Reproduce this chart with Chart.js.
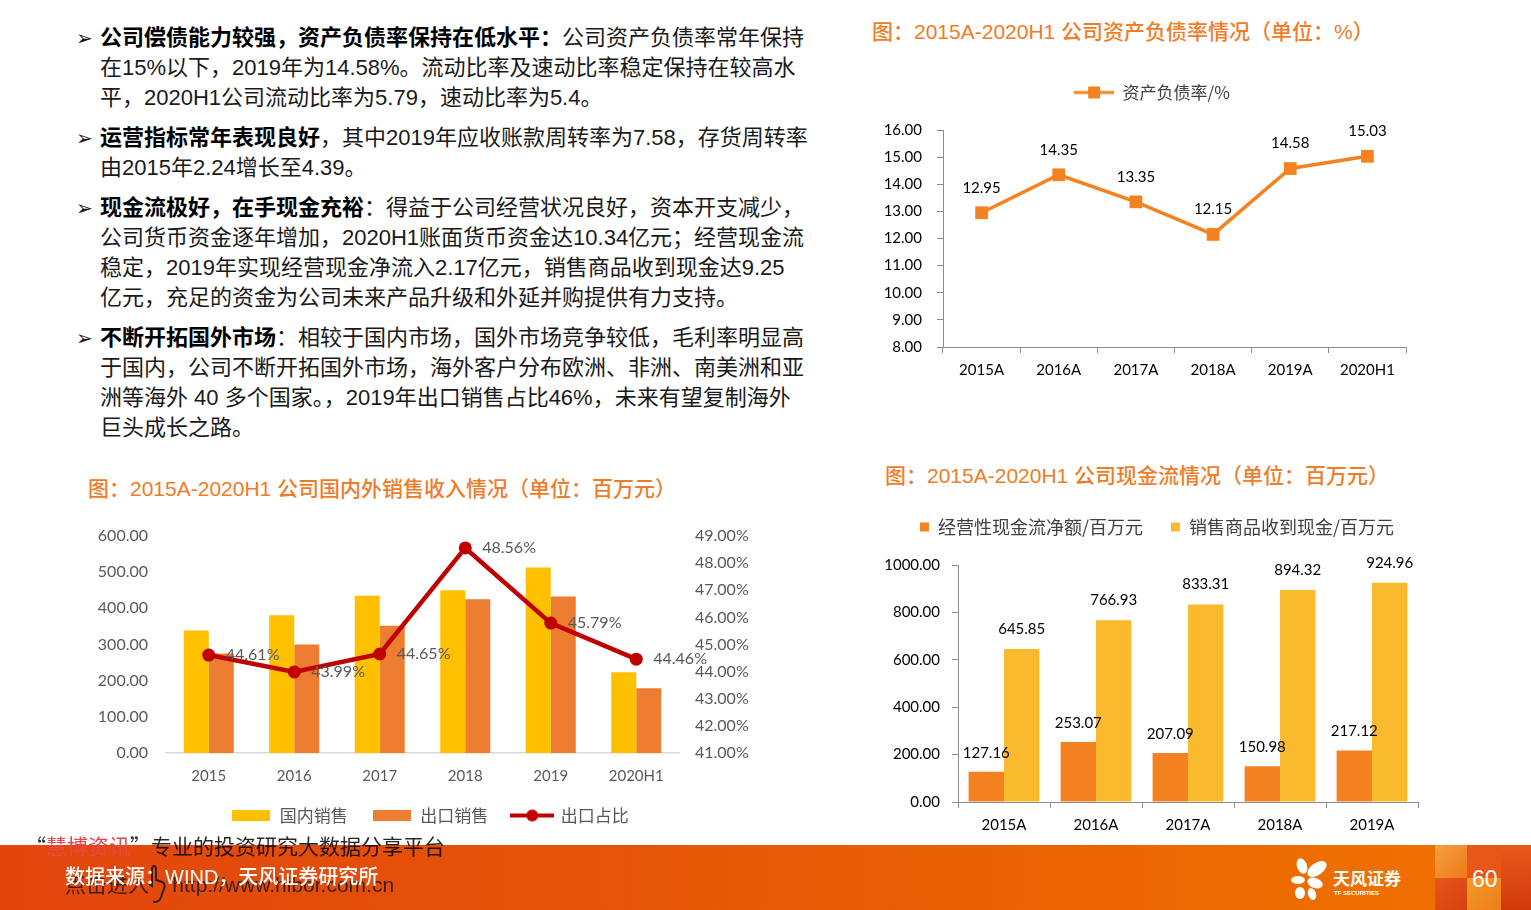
<!DOCTYPE html>
<html><head><meta charset="utf-8">
<script src="https://cdn.jsdelivr.net/npm/chart.js@4.4.1/dist/chart.umd.min.js"></script>
<style>
html,body{margin:0;padding:0;}
body{width:1531px;height:910px;position:relative;overflow:hidden;background:#fff;font-family:"Liberation Sans","Noto Sans CJK SC",sans-serif;}
.abs{position:absolute;}
#text{left:100px;top:23px;width:760px;font-size:22px;line-height:30px;color:#1a1a1a;}
#text p{margin:0 0 10px 0;position:relative;white-space:nowrap;}
#text p:before{content:"\27A2";position:absolute;left:-24px;top:0px;font-size:20px;font-family:"DejaVu Sans";color:#111;}
#text b{font-weight:700;color:#000;}
.title{font-family:"Liberation Sans","Noto Sans CJK SC";font-size:21px;line-height:30px;color:#F07C28;font-weight:500;white-space:nowrap;}
canvas{position:absolute;}
#band{left:0;top:845px;width:1531px;height:65px;background:linear-gradient(90deg,#E2460D 0%,#E45009 30%,#E95F05 60%,#EE7000 92%);}
.mz{position:absolute;}
#wm1{left:25px;top:830px;font-size:21px;line-height:30px;color:rgba(0,0,0,0.85);white-space:nowrap;font-family:"Noto Sans CJK SC";}
#wm1 span{color:#E8474B;}
#src{left:65px;top:863px;font-size:20px;line-height:28px;color:#fff;white-space:nowrap;font-family:"Liberation Sans","Noto Sans CJK SC";font-weight:500;}
#wm2{left:65px;top:871px;font-size:21px;line-height:28px;color:rgba(20,20,20,0.8);white-space:nowrap;font-family:"Liberation Sans","Noto Sans CJK SC";}
#pg{left:1472px;top:864px;font-size:23px;line-height:30px;color:#fff;font-family:"Liberation Sans";}
#logoTxt{left:1333px;top:868px;font-size:17px;line-height:20px;color:#fff;font-weight:700;font-family:"Noto Sans CJK SC";white-space:nowrap;}
#logoSub{left:1334px;top:889px;font-size:6px;line-height:8px;color:#fff;font-weight:700;font-family:"Liberation Sans";white-space:nowrap;}
</style>
</head>
<body>
<div id="text" class="abs">
<p><b>公司偿债能力较强，资产负债率保持在低水平：</b>公司资产负债率常年保持<br>在15%以下，2019年为14.58%。流动比率及速动比率稳定保持在较高水<br>平，2020H1公司流动比率为5.79，速动比率为5.4。</p>
<p><b>运营指标常年表现良好</b>，其中2019年应收账款周转率为7.58，存货周转率<br>由2015年2.24增长至4.39。</p>
<p><b>现金流极好，在手现金充裕</b>：得益于公司经营状况良好，资本开支减少，<br>公司货币资金逐年增加，2020H1账面货币资金达10.34亿元；经营现金流<br>稳定，2019年实现经营现金净流入2.17亿元，销售商品收到现金达9.25<br>亿元，充足的资金为公司未来产品升级和外延并购提供有力支持。</p>
<p><b>不断开拓国外市场</b>：相较于国内市场，国外市场竞争较低，毛利率明显高<br>于国内，公司不断开拓国外市场，海外客户分布欧洲、非洲、南美洲和亚<br>洲等海外 40 多个国家。，2019年出口销售占比46%，未来有望复制海外<br>巨头成长之路。</p>
</div>

<div class="abs title" style="left:872px;top:17px;">图：2015A-2020H1 公司资产负债率情况（单位：%）</div>
<div class="abs title" style="left:88px;top:474px;">图：2015A-2020H1 公司国内外销售收入情况（单位：百万元）</div>
<div class="abs title" style="left:885px;top:461px;">图：2015A-2020H1 公司现金流情况（单位：百万元）</div>

<canvas id="c1" width="580" height="320" style="left:850px;top:70px;"></canvas>
<canvas id="c2" width="700" height="320" style="left:70px;top:515px;"></canvas>
<canvas id="c3" width="580" height="355" style="left:860px;top:490px;"></canvas>

<div id="band" class="abs"></div>
<div class="mz" style="left:1435px;top:845px;width:32px;height:33px;background:linear-gradient(135deg,#F5A040,#EE7A18);"></div>
<div class="mz" style="left:1435px;top:878px;width:32px;height:32px;background:linear-gradient(135deg,#E4581A,#D8400E);"></div>
<div class="mz" style="left:1467px;top:845px;width:34px;height:33px;background:#E8561A;"></div>
<div class="mz" style="left:1467px;top:878px;width:34px;height:32px;background:linear-gradient(135deg,#F39A2A,#EE7E18);"></div>
<div class="mz" style="left:1501px;top:845px;width:30px;height:65px;background:linear-gradient(180deg,#E85A1A,#D2380C);"></div>

<div id="wm1" class="abs">“<span>慧博资讯</span>”专业的投资研究大数据分享平台</div>
<div id="wm2" class="abs">点击进入 &nbsp;&nbsp;&nbsp;http://www.hibor.com.cn</div>
<svg class="abs" style="left:148px;top:864px;" width="20" height="40" viewBox="0 0 20 40">
 <path d="M6 2 C8 2 8 4 8 6 L8 16 L14 18 C17 19 17 22 16 25 L13 33 C12 36 10 38 7 38 L5 38 M6 2 C4 2 4 4 4 6 L4 22 L1 20" fill="none" stroke="rgba(20,20,20,0.85)" stroke-width="2"/>
</svg>
<div id="src" class="abs">数据来源：WIND，天风证券研究所</div>
<svg class="abs" style="left:1290px;top:856px;" width="44" height="46" viewBox="0 0 44 46">
 <g fill="#fff">
  <ellipse cx="12" cy="10" rx="5" ry="8" transform="rotate(-20 12 10)"/>
  <ellipse cx="27" cy="13" rx="11" ry="6" transform="rotate(-35 27 13)"/>
  <ellipse cx="8" cy="24" rx="7" ry="4"/>
  <ellipse cx="25" cy="27" rx="8" ry="5" transform="rotate(20 25 27)"/>
  <ellipse cx="10" cy="37" rx="5" ry="6"/>
  <ellipse cx="22" cy="38" rx="4" ry="6" transform="rotate(-20 22 38)"/>
 </g>
</svg>
<div id="logoTxt" class="abs">天风证券</div>
<div id="logoSub" class="abs">TF SECURITIES</div>
<div id="pg" class="abs">60</div>

<script>
// ---------- data ----------
const debtCats = ['2015A','2016A','2017A','2018A','2019A','2020H1'];
const debtRatio = [12.95,14.35,13.35,12.15,14.58,15.03];
const debtTicks = {min:8, max:16, step:1};

const salesCats = ['2015','2016','2017','2018','2019','2020H1'];
const domesticSales = [339,381,435,450,513,223];
const exportSales = [275,300,352,425,433,179];
const exportShare = [44.61,43.99,44.65,48.56,45.79,44.46];
const salesTicks = {min:0, max:600, step:100};
const shareTicks = {min:41, max:49, step:1};

const cashCats = ['2015A','2016A','2017A','2018A','2019A'];
const opCashFlow = [127.16,253.07,207.09,150.98,217.12];
const salesCash = [645.85,766.93,833.31,894.32,924.96];
const cashTicks = {min:0, max:1000, step:200};

// ---------- helpers ----------
const NUMF = 'Lato, "Noto Sans CJK SC", sans-serif';
const CJKF = '"Noto Sans CJK SC", sans-serif';

function fixLegend(h, dx){
  return {id:'fixLegend', beforeUpdate(chart){
    const lg = chart.legend;
    if(!lg || lg._patched) return;
    const f = lg.fit;
    lg.fit = function(){ f.call(this); this.height = h; };
    const d = lg.draw;
    lg.draw = function(){ const c = this.ctx; c.save(); c.translate(dx||0, 0); d.call(this); c.restore(); };
    lg._patched = true;
  }};
}

const valueLabels = {
  id:'valueLabels',
  afterDatasetsDraw(chart){
    const ctx = chart.ctx;
    chart.data.datasets.forEach((ds,i)=>{
      const lab = ds.valueLabel; if(!lab) return;
      const meta = chart.getDatasetMeta(i);
      ctx.save();
      ctx.font = lab.font; ctx.fillStyle = lab.color;
      ctx.textBaseline = 'middle';
      meta.data.forEach((el,j)=>{
        const txt = lab.format(ds.data[j]);
        if(lab.pos === 'right'){ ctx.textAlign='left'; ctx.fillText(txt, el.x + lab.dx, el.y + (lab.dy||0)); }
        else { ctx.textAlign='center'; ctx.fillText(txt, el.x, el.y - lab.dy); }
      });
      ctx.restore();
    });
  }
};

function iconCanvas(w,h,draw){
  const c = document.createElement('canvas');
  c.width = w; c.height = h;
  draw(c.getContext('2d'), w, h);
  return c;
}

Chart.defaults.animation = false;
Chart.defaults.responsive = false;
Chart.defaults.devicePixelRatio = 1;
Chart.defaults.plugins.tooltip.enabled = false;

// ---------- chart 1: debt ratio ----------
const orange1 = '#F58220';
const iconLine1 = iconCanvas(40,14,(g,w,h)=>{
  g.strokeStyle = orange1; g.lineWidth = 3;
  g.beginPath(); g.moveTo(0,h/2); g.lineTo(w,h/2); g.stroke();
  g.fillStyle = orange1; g.fillRect(w/2-6,h/2-6,12,12);
});
new Chart(document.getElementById('c1'), {
  type:'line',
  data:{labels:debtCats, datasets:[{
    label:'资产负债率/%', data:debtRatio,
    borderColor:orange1, borderWidth:3.5, backgroundColor:orange1,
    pointStyle:'rect', pointRadius:9, pointBackgroundColor:orange1, pointBorderWidth:0,
    tension:0,
    valueLabel:{pos:'top', dy:25, font:'15px '+NUMF, color:'#000', format:v=>v.toFixed(2)}
  }]},
  options:{
    layout:{padding:{left:0,right:24,top:0,bottom:0}},
    plugins:{
      legend:{position:'top', labels:{usePointStyle:true, pointStyleWidth:40, padding:14, color:'#404040', font:{size:17, family:CJKF},
        generateLabels(chart){ return Chart.defaults.plugins.legend.labels.generateLabels(chart).map(l=>Object.assign(l,{pointStyle:iconLine1})); }}}
    },
    scales:{
      x:{offset:true, grid:{display:true, drawOnChartArea:false, offset:true, tickLength:6, color:'#8c8c8c'},
         border:{color:'#8c8c8c'}, ticks:{color:'#000', font:{size:15, family:NUMF}, padding:8},
         afterFit(s){ s.height = 43; }},
      y:{min:debtTicks.min, max:debtTicks.max, grid:{drawOnChartArea:false, tickLength:6, color:'#8c8c8c'},
         border:{color:'#8c8c8c'},
         ticks:{stepSize:debtTicks.step, color:'#000', font:{size:15, family:NUMF}, padding:15, callback:v=>Number(v).toFixed(2)},
         afterFit(s){ s.width = 93; }}
    }
  },
  plugins:[fixLegend(60, 24), valueLabels]
});

// ---------- chart 2: domestic / export sales ----------
const yel2 = '#FFC000', org2 = '#ED7D31', red2 = '#C00000';
const iconY2 = iconCanvas(38,11,(g,w,h)=>{ g.fillStyle=yel2; g.fillRect(0,0,w,h); });
const iconO2 = iconCanvas(38,11,(g,w,h)=>{ g.fillStyle=org2; g.fillRect(0,0,w,h); });
const iconR2 = iconCanvas(44,14,(g,w,h)=>{
  g.strokeStyle=red2; g.lineWidth=4; g.beginPath(); g.moveTo(0,h/2); g.lineTo(w,h/2); g.stroke();
  g.fillStyle=red2; g.beginPath(); g.arc(w/2,h/2,6,0,Math.PI*2); g.fill();
});
const icons2 = [iconY2, iconO2, iconR2];
const noVPad = s => { s.paddingTop = 0; s.paddingBottom = 0; };
new Chart(document.getElementById('c2'), {
  data:{labels:salesCats, datasets:[
    {type:'bar', label:'国内销售', data:domesticSales, backgroundColor:yel2, yAxisID:'y', categoryPercentage:0.585, barPercentage:1, order:1},
    {type:'bar', label:'出口销售', data:exportSales, backgroundColor:org2, yAxisID:'y', categoryPercentage:0.585, barPercentage:1, order:1},
    {type:'line', label:'出口占比', data:exportShare, yAxisID:'y2', borderColor:red2, backgroundColor:red2, borderWidth:4.5,
     pointRadius:6.5, pointBackgroundColor:red2, pointBorderWidth:0, tension:0, order:0,
     valueLabel:{pos:'right', dx:17, dy:0, font:'16px '+NUMF, color:'#595959', format:v=>v.toFixed(2)+'%'}}
  ]},
  options:{
    layout:{padding:{left:0,right:0,top:21,bottom:0}},
    plugins:{
      legend:{position:'bottom', labels:{usePointStyle:true, pointStyleWidth:40, padding:24, color:'#595959', font:{size:17, family:CJKF},
        sort:(a,b)=>a.datasetIndex-b.datasetIndex,
        generateLabels(chart){ return Chart.defaults.plugins.legend.labels.generateLabels(chart).map(l=>Object.assign(l,{pointStyle:icons2[l.datasetIndex]})); }}}
    },
    scales:{
      x:{grid:{display:false, drawTicks:false}, border:{color:'#D9D9D9', width:1.5},
         ticks:{color:'#595959', font:{size:15, family:NUMF}, padding:14}, afterFit(s){ s.height = 30; }},
      y:{position:'left', min:salesTicks.min, max:salesTicks.max, grid:{display:false, drawTicks:false}, border:{display:false},
         ticks:{stepSize:salesTicks.step, color:'#595959', font:{size:16, family:NUMF}, padding:18, callback:v=>Number(v).toFixed(2)},
         afterFit(s){ s.width = 96; noVPad(s); }},
      y2:{position:'right', min:shareTicks.min, max:shareTicks.max, grid:{display:false, drawTicks:false}, border:{display:false},
         ticks:{stepSize:shareTicks.step, color:'#595959', font:{size:16, family:NUMF}, padding:16, callback:v=>Number(v).toFixed(2)+'%'},
         afterFit(s){ s.width = 91; noVPad(s); }}
    }
  },
  plugins:[fixLegend(52, 10), valueLabels]
});

// ---------- chart 3: cash flow ----------
const org3 = '#F58220', yel3 = '#F9BB2D';
new Chart(document.getElementById('c3'), {
  type:'bar',
  data:{labels:cashCats, datasets:[
    {label:'经营性现金流净额/百万元', data:opCashFlow, backgroundColor:org3, categoryPercentage:0.77, barPercentage:1,
     valueLabel:{pos:'top', dy:19, font:'15px '+NUMF, color:'#000', format:v=>v.toFixed(2)}},
    {label:'销售商品收到现金/百万元', data:salesCash, backgroundColor:yel3, categoryPercentage:0.77, barPercentage:1,
     valueLabel:{pos:'top', dy:20, font:'15px '+NUMF, color:'#000', format:v=>v.toFixed(2)}}
  ]},
  options:{
    layout:{padding:{left:0,right:22,top:0,bottom:0}},
    plugins:{
      legend:{position:'top', labels:{boxWidth:9, boxHeight:9, padding:28, color:'#404040', font:{size:18, family:CJKF}}}
    },
    scales:{
      x:{grid:{display:true, drawOnChartArea:false, offset:true, tickLength:6, color:'#8c8c8c'}, border:{color:'#8c8c8c'},
         ticks:{color:'#000', font:{size:15, family:NUMF}, padding:8}, afterFit(s){ s.height = 43; }},
      y:{min:cashTicks.min, max:cashTicks.max, grid:{drawOnChartArea:false, tickLength:6, color:'#8c8c8c'}, border:{color:'#8c8c8c'},
         ticks:{stepSize:cashTicks.step, color:'#000', font:{size:15, family:NUMF}, padding:12, callback:v=>Number(v).toFixed(2)},
         afterFit(s){ s.width = 98; }}
    }
  },
  plugins:[fixLegend(75, 18), valueLabels]
});
</script>
</body></html>
